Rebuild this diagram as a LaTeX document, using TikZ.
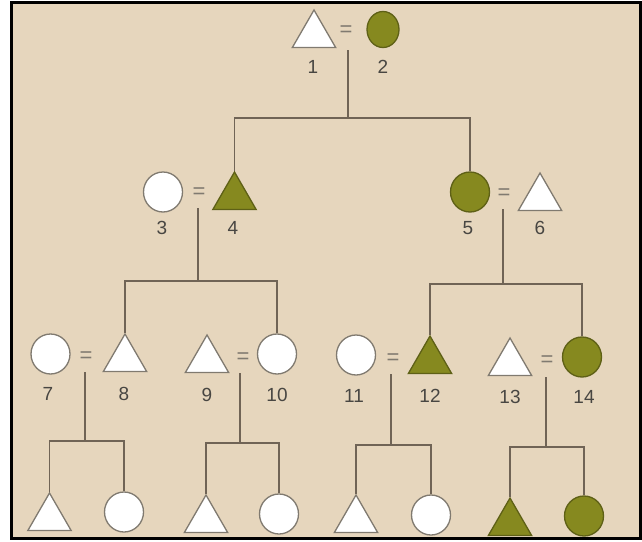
\documentclass[tikz,border=0pt]{standalone}
\usepackage{fontspec}
\setmainfont{Liberation Sans}
\usetikzlibrary{shapes.geometric}
\definecolor{bgbeige}{RGB}{230,214,189}
\definecolor{olive}{RGB}{134,137,31}
\definecolor{linec}{RGB}{112,100,86}
\definecolor{outl}{RGB}{128,122,112}
\definecolor{numc}{RGB}{72,70,66}
\tikzset{
  male/.style={regular polygon, regular polygon sides=3, minimum size=50pt, inner sep=0pt, draw=outl, line width=1.3pt, fill=white},
  female/.style={ellipse, minimum width=39pt, minimum height=40pt, inner sep=0pt, draw=outl, line width=1.3pt, fill=white},
  aff/.style={fill=olive, draw=olive!70!black},
  eqs/.style={text=outl, font=\fontsize{22}{22}\selectfont, inner sep=0pt},
  num/.style={text=numc, font=\fontsize{19}{22}\selectfont, inner sep=0pt},
  conn/.style={draw=linec, line width=1.6pt}
}
\begin{document}
\begin{tikzpicture}[x=1pt,y=-1pt]
\useasboundingbox (0,0) rectangle (642,541);
\fill[white] (0,0) rectangle (642,541);
\fill[bgbeige] (11.5,2.5) rectangle (640.5,538.5);
\draw[black, line width=3pt] (11.5,2.5) rectangle (640.5,538.5);

% Generation 1
\node[male] (p1) at (314,35) {};
\node[eqs] (e12) at (346,31) {=};
\node[female, aff, minimum width=32pt, minimum height=36pt] (p2) at (383,29.5) {};
\node[num] (l1) at (313,67) {1};
\node[num] (l2) at (383,67) {2};
\coordinate (t12) at (348,50);
\coordinate (j12) at (348,118);

% Generation 2
\node[female] (p3) at (163,192) {};
\node[eqs] (e34) at (199,193) {=};
\node[male, aff] (p4) at (234.5,197) {};
\node[num] (l3) at (162,228) {3};
\node[num] (l4) at (233,228) {4};
\coordinate (t34) at (198,208);
\coordinate (j34) at (198,281);

\node[female, aff] (p5) at (470,192) {};
\node[eqs] (e56) at (504,194) {=};
\node[male] (p6) at (540,198) {};
\node[num] (l5) at (468,228) {5};
\node[num] (l6) at (540,228) {6};
\coordinate (t56) at (503,209);
\coordinate (j56) at (503,284);

% Generation 3
\node[female] (p7) at (50.5,354) {};
\node[eqs] (e78) at (86,357) {=};
\node[male] (p8) at (125,359) {};
\node[num] (l7) at (48,394) {7};
\node[num] (l8) at (124,394) {8};
\coordinate (t78) at (85,372);
\coordinate (j78) at (85,441);

\node[male] (p9) at (207,360) {};
\node[eqs] (e910) at (243,358) {=};
\node[female] (p10) at (277,354) {};
\node[num] (l9) at (207,395) {9};
\node[num] (l10) at (277,395) {10};
\coordinate (t910) at (240,373);
\coordinate (j910) at (240,443);

\node[female] (p11) at (356,355) {};
\node[eqs] (e1112) at (393,359) {=};
\node[male, aff] (p12) at (430,361) {};
\node[num] (l11) at (354,396) {11};
\node[num] (l12) at (430,396) {12};
\coordinate (t1112) at (391,374);
\coordinate (j1112) at (391,445);

\node[male] (p13) at (510,363) {};
\node[eqs] (e1314) at (547,361) {=};
\node[female, aff] (p14) at (582,357) {};
\node[num] (l13) at (510,397) {13};
\node[num] (l14) at (584,397) {14};
\coordinate (t1314) at (546,377);
\coordinate (j1314) at (546,447);

% Generation 4
\node[male] (c1) at (49.5,518) {};
\node[female] (c2) at (124,512) {};
\node[male] (c3) at (206,520) {};
\node[female] (c4) at (279,514) {};
\node[male] (c5) at (356,520) {};
\node[female] (c6) at (431,515) {};
\node[male, aff] (c7) at (510,523) {};
\node[female, aff] (c8) at (584,516) {};

% Connectors
\draw[conn] (t12) -- (j12);
\draw[conn] (p4.north) |- (j12) -| (p5.north);
\draw[conn] (t34) -- (j34);
\draw[conn] (p8.north) |- (j34) -| (p10.north);
\draw[conn] (t56) -- (j56);
\draw[conn] (p12.north) |- (j56) -| (p14.north);
\draw[conn] (t78) -- (j78);
\draw[conn] (c1.north) |- (j78) -| (c2.north);
\draw[conn] (t910) -- (j910);
\draw[conn] (c3.north) |- (j910) -| (c4.north);
\draw[conn] (t1112) -- (j1112);
\draw[conn] (c5.north) |- (j1112) -| (c6.north);
\draw[conn] (t1314) -- (j1314);
\draw[conn] (c7.north) |- (j1314) -| (c8.north);
\end{tikzpicture}
\end{document}
